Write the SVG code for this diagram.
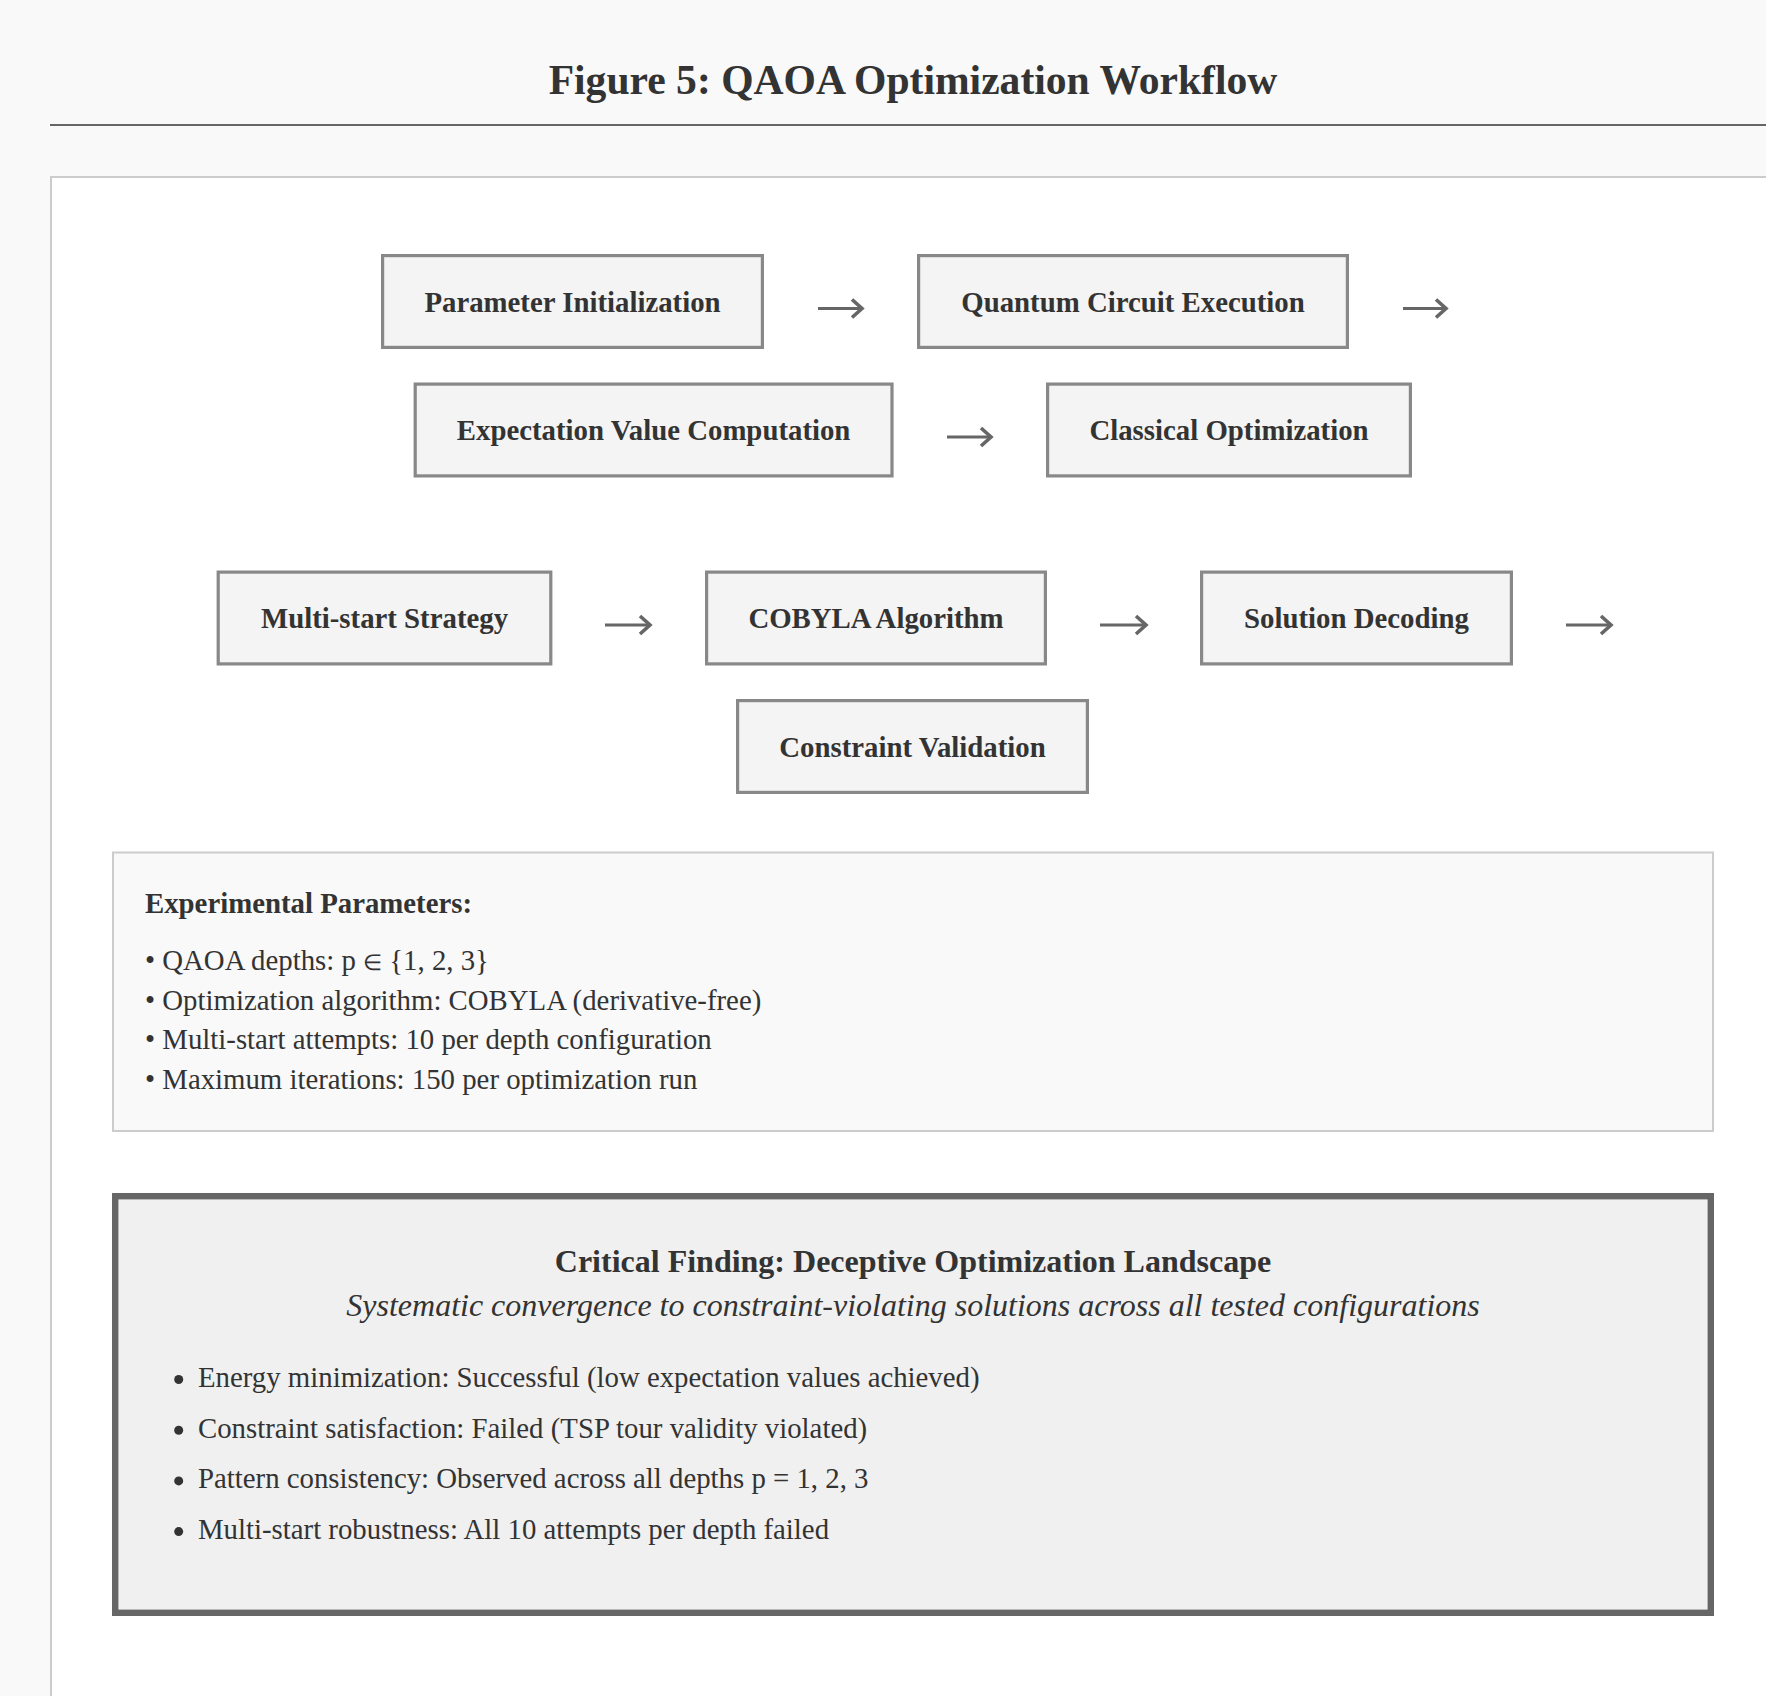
<svg xmlns="http://www.w3.org/2000/svg" width="1766" height="1696" viewBox="0 0 1766 1696">
<defs>
<style>
text{font-family:"Liberation Serif","Times New Roman",serif;fill:#333}
.node rect{fill:#f4f4f4;stroke:#888;stroke-width:3.2}
.node text{font-size:28.8px;font-weight:bold;text-anchor:middle}
.conn line{stroke:#666;stroke-width:3}
.p{font-size:28.8px}
.b{font-weight:bold}
.dot{fill:#333}
</style>
<marker id="ah" markerUnits="userSpaceOnUse" markerWidth="16" markerHeight="22" refX="11" refY="10" orient="auto" overflow="visible">
<path d="M1,1 L11,10 L1,19" fill="none" stroke="#666" stroke-width="3.6"/>
</marker>
</defs>
<rect x="0" y="0" width="1766" height="1696" fill="#f9f9f9"/>
<text x="913" y="93.5" font-size="41.6" font-weight="bold" text-anchor="middle">Figure 5: QAOA Optimization Workflow</text>
<line x1="50" y1="125" x2="1800" y2="125" stroke="#666" stroke-width="2"/>
<rect x="51" y="177" width="1800" height="1600" fill="#fff" stroke="#ccc" stroke-width="2"/>

<g id="n1" class="node"><rect x="382.6" y="255.6" width="379.8" height="91.8"/><text x="572.5" y="311.5">Parameter Initialization</text></g>
<g id="n2" class="node"><rect x="918.6" y="255.6" width="428.8" height="91.8"/><text x="1133" y="311.5">Quantum Circuit Execution</text></g>
<g id="n3" class="node"><rect x="415.2" y="384.1" width="476.8" height="91.8"/><text x="653.6" y="440">Expectation Value Computation</text></g>
<g id="n4" class="node"><rect x="1047.6" y="384.1" width="362.8" height="91.8"/><text x="1229" y="440">Classical Optimization</text></g>
<g id="n5" class="node"><rect x="218.2" y="572.1" width="332.6" height="91.8"/><text x="384.5" y="628">Multi-start Strategy</text></g>
<g id="n6" class="node"><rect x="706.6" y="572.1" width="338.8" height="91.8"/><text x="876" y="628">COBYLA Algorithm</text></g>
<g id="n7" class="node"><rect x="1201.6" y="572.1" width="309.8" height="91.8"/><text x="1356.5" y="628">Solution Decoding</text></g>
<g id="n8" class="node"><rect x="737.6" y="700.6" width="349.8" height="91.8"/><text x="912.5" y="756.5">Constraint Validation</text></g>

<g id="connectors" class="conn">
<line x1="818" y1="308.5" x2="862" y2="308.5" marker-end="url(#ah)"/>
<line x1="1403" y1="308.5" x2="1446" y2="308.5" marker-end="url(#ah)"/>
<line x1="947" y1="437" x2="991" y2="437" marker-end="url(#ah)"/>
<line x1="605" y1="625" x2="650" y2="625" marker-end="url(#ah)"/>
<line x1="1100" y1="625" x2="1146" y2="625" marker-end="url(#ah)"/>
<line x1="1566" y1="625" x2="1611" y2="625" marker-end="url(#ah)"/>
</g>

<g id="params">
<rect x="113" y="852.5" width="1600" height="278.5" fill="#f9f9f9" stroke="#ccc" stroke-width="2"/>
<text class="p b" x="145" y="913">Experimental Parameters:</text>
<text class="p" x="145" y="970">• QAOA depths: p <tspan font-size="22">∈</tspan> {1, 2, 3}</text>
<text class="p" x="145" y="1009.7">• Optimization algorithm: COBYLA (derivative-free)</text>
<text class="p" x="145" y="1049.3">• Multi-start attempts: 10 per depth configuration</text>
<text class="p" x="145" y="1089">• Maximum iterations: 150 per optimization run</text>
</g>

<g id="finding">
<rect x="115.2" y="1196.2" width="1595.6" height="416.6" fill="#f0f0f0" stroke="#666" stroke-width="6.4"/>
<text x="913" y="1272" font-size="32" font-weight="bold" text-anchor="middle">Critical Finding: Deceptive Optimization Landscape</text>
<text x="913" y="1315.5" font-size="32" font-style="italic" text-anchor="middle">Systematic convergence to constraint-violating solutions across all tested configurations</text>
<circle class="dot" cx="178.7" cy="1379.5" r="4.5"/>
<text class="p" x="198" y="1387">Energy minimization: Successful (low expectation values achieved)</text>
<circle class="dot" cx="178.7" cy="1430.2" r="4.5"/>
<text class="p" x="198" y="1437.7">Constraint satisfaction: Failed (TSP tour validity violated)</text>
<circle class="dot" cx="178.7" cy="1480.9" r="4.5"/>
<text class="p" x="198" y="1488.4">Pattern consistency: Observed across all depths p = 1, 2, 3</text>
<circle class="dot" cx="178.7" cy="1531.6" r="4.5"/>
<text class="p" x="198" y="1539.1">Multi-start robustness: All 10 attempts per depth failed</text>
</g>
</svg>
